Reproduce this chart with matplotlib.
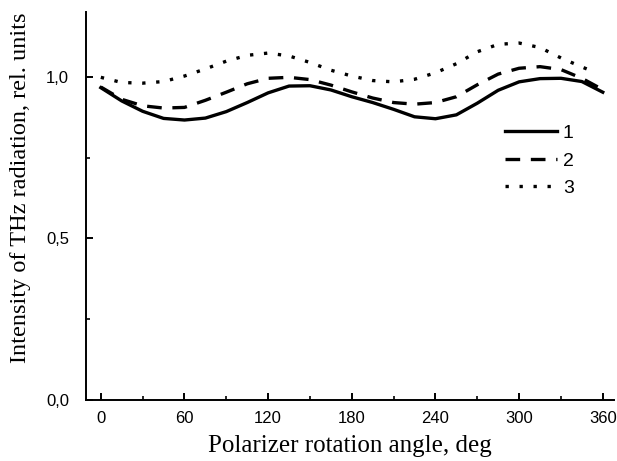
import matplotlib
matplotlib.use("Agg")
import matplotlib.pyplot as plt
from matplotlib.ticker import MultipleLocator, FuncFormatter

# ===== data =====
angles = [0, 15, 30, 45, 60, 75, 90, 105, 120, 135, 150, 165, 180,
          195, 210, 225, 240, 255, 270, 285, 300, 315, 330, 345, 360]

curve_1 = [0.966, 0.925, 0.893, 0.871, 0.866, 0.872, 0.892, 0.920, 0.950,
           0.971, 0.972, 0.959, 0.938, 0.920, 0.899, 0.876, 0.870, 0.882,
           0.918, 0.958, 0.984, 0.994, 0.995, 0.985, 0.952]

curve_2 = [0.968, 0.930, 0.910, 0.903, 0.905, 0.927, 0.952, 0.978, 0.995,
           0.998, 0.991, 0.974, 0.953, 0.934, 0.920, 0.915, 0.920, 0.938,
           0.975, 1.008, 1.026, 1.031, 1.022, 0.995, 0.960]

angles_3 = [0, 15, 30, 45, 60, 75, 90, 105, 120, 135, 150, 165, 180,
            195, 210, 225, 240, 255, 270, 285, 300, 315, 330, 345, 352]
curve_3 = [0.998, 0.982, 0.980, 0.985, 1.002, 1.024, 1.048, 1.066, 1.073,
           1.064, 1.044, 1.020, 1.002, 0.988, 0.984, 0.992, 1.012, 1.040,
           1.077, 1.100, 1.104, 1.090, 1.058, 1.030, 1.018]

x_ticks = [0, 60, 120, 180, 240, 300, 360]
series_labels = ["1", "2", "3"]

# ===== plot =====
fig = plt.figure(figsize=(6.17, 4.61), dpi=100)
ax = fig.add_axes([0.139, 0.132, 0.856, 0.842])

ax.plot(angles, curve_1, color="black", lw=2.4, label=series_labels[0])
ax.plot(angles, curve_2, color="black", lw=2.4, dashes=(4.4, 3.2),
        label=series_labels[1])
ax.plot(angles_3, curve_3, color="black", lw=2.4, dashes=(1.0, 3.2),
        label=series_labels[2])

ax.set_xlim(-10.8, 368)
ax.set_ylim(0, 1.2)

ax.spines["top"].set_visible(False)
ax.spines["right"].set_visible(False)
ax.spines["left"].set_linewidth(1.4)
ax.spines["bottom"].set_linewidth(1.4)

ax.set_xticks(x_ticks)
ax.xaxis.set_minor_locator(MultipleLocator(30))
ax.yaxis.set_major_locator(MultipleLocator(0.5))
ax.yaxis.set_minor_locator(MultipleLocator(0.25))
ax.yaxis.set_major_formatter(FuncFormatter(lambda v, p: f"{v:.1f}".replace(".", ",")))

ax.tick_params(which="major", direction="in", length=5, width=1.4,
               labelsize=12)
ax.tick_params(axis="x", which="major", pad=8)
ax.tick_params(axis="y", which="major", pad=12)
ax.tick_params(which="minor", direction="in", length=3, width=1.2)
for lab in ax.get_xticklabels() + ax.get_yticklabels():
    lab.set_fontfamily("Liberation Sans")

ax.set_xlabel("Polarizer rotation angle, deg", family="Liberation Serif",
              fontsize=18, labelpad=6)
ax.set_ylabel("Intensity of THz radiation, rel. units", family="Liberation Serif",
              fontsize=17.5)
ax.yaxis.set_label_coords(-0.103, 0.546)

leg = ax.legend(loc="upper left", bbox_to_anchor=(0.76, 0.755), frameon=False,
                handlelength=2.7, handletextpad=0.3, labelspacing=0.5,
                prop={"family": "Liberation Sans", "size": 14})

fig.savefig("out.png", dpi=100)
